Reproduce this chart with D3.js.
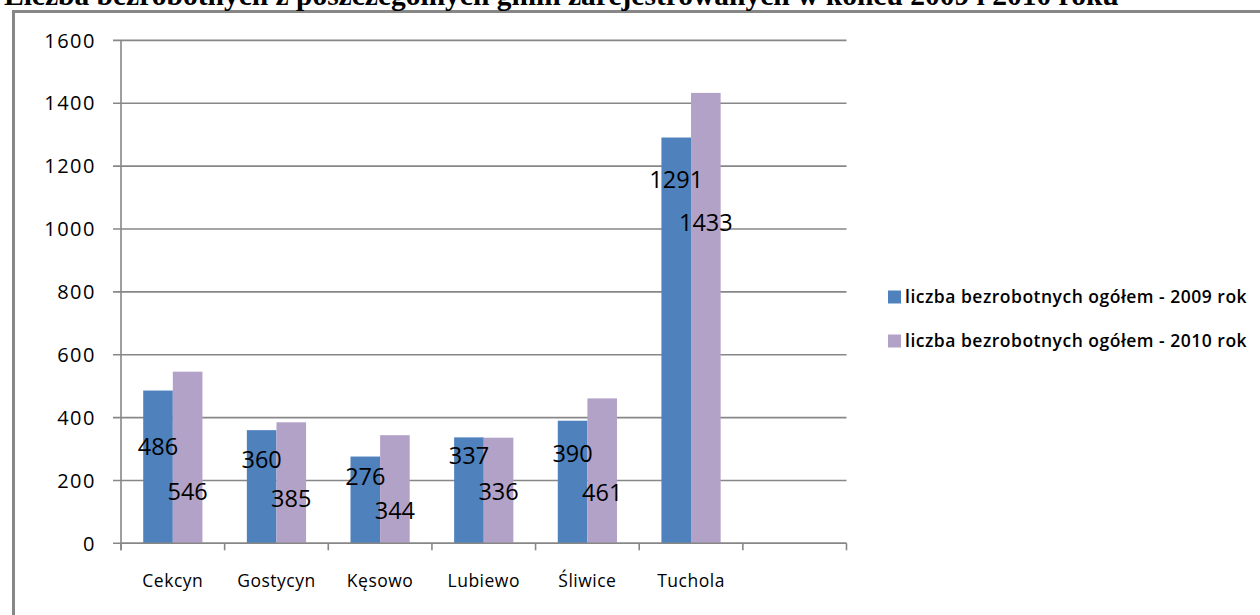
<!DOCTYPE html>
<html>
<head>
<meta charset="utf-8">
<script src="https://cdn.jsdelivr.net/npm/d3@7"></script>
<style>
  body { margin: 0; background: #fff; }
  svg { display: block; }
</style>
</head>
<body>
<div id="container"></div>
<script>
//Chart data
var title = "Liczba bezrobotnych z poszczególnych gmin zarejestrowanych w końcu 2009 i 2010 roku";
var categories = ["Cekcyn", "Gostycyn", "Kęsowo", "Lubiewo", "Śliwice", "Tuchola", ""];
var seriesNames = ["liczba bezrobotnych ogółem - 2009 rok", "liczba bezrobotnych ogółem - 2010 rok"];
var values2009 = [486, 360, 276, 337, 390, 1291, null];
var values2010 = [546, 385, 344, 336, 461, 1433, null];
var yTicks = [0, 200, 400, 600, 800, 1000, 1200, 1400, 1600];

var colors = ["#4F81BD", "#B3A2C7"];
var gridColor = "#878787";

//Data labels were dragged by hand in the original, so they sit at
//different depths below the bar top (pixels)
var labelDrop = [
    [56, 29, 20, 18, 33, 42],
    [120, 76, 75, 54, 94, 130]
];

var width = 1260,
    height = 615;

//Plot area
var plot = { left: 121, right: 846.5, top: 40.4, bottom: 543.3 };

var svg = d3.select("#container").append("svg")
    .attr("width", width)
    .attr("height", height);

//Outer chart border (runs off the right and bottom of the picture)
svg.append("rect")
    .attr("x", 13.5)
    .attr("y", 11.5)
    .attr("width", 1300)
    .attr("height", 700)
    .attr("fill", "none")
    .attr("stroke", gridColor)
    .attr("stroke-width", 3);

//Title, mostly cut off at the top (as in the source page)
svg.append("text")
    .attr("x", 4)
    .attr("y", 5)
    .attr("font-family", "'Liberation Serif', 'Times New Roman', serif")
    .attr("font-weight", "bold")
    .attr("font-size", 29.5)
    .attr("fill", "#000")
    .text(title);

var x0 = d3.scaleBand()
    .domain(categories)
    .range([plot.left, plot.right])
    .paddingInner(0)
    .paddingOuter(0);

var x1 = d3.scaleBand()
    .domain([0, 1])
    .range([0, x0.bandwidth()])
    .paddingInner(0)
    .paddingOuter(0.75);

var y = d3.scaleLinear()
    .domain([0, 1600])
    .range([plot.bottom, plot.top]);

//Horizontal gridlines + y ticks
svg.append("g")
    .selectAll("line")
    .data(yTicks)
    .enter().append("line")
    .attr("x1", plot.left - 8)
    .attr("x2", plot.right)
    .attr("y1", function (d) { return y(d); })
    .attr("y2", function (d) { return y(d); })
    .attr("stroke", gridColor)
    .attr("stroke-width", 1.6);

//Y axis labels
svg.append("g")
    .selectAll("text")
    .data(yTicks)
    .enter().append("text")
    .attr("x", 96)
    .attr("y", function (d) { return y(d); })
    .attr("dy", "0.36em")
    .attr("text-anchor", "end")
    .attr("font-family", "'Open Sans', sans-serif")
    .attr("font-size", 20)
    .attr("letter-spacing", 1.5)
    .attr("fill", "#000")
    .text(function (d) { return d; });

//Y axis line
svg.append("line")
    .attr("x1", plot.left).attr("x2", plot.left)
    .attr("y1", plot.top).attr("y2", plot.bottom + 7)
    .attr("stroke", gridColor)
    .attr("stroke-width", 1.6);

//Bars
var series = [values2009, values2010];
series.forEach(function (vals, s) {
    svg.append("g")
        .selectAll("rect")
        .data(categories.map(function (c, i) { return { cat: c, v: vals[i] }; })
            .filter(function (d) { return d.v != null; }))
        .enter().append("rect")
        .attr("x", function (d) { return x0(d.cat) + x1(s); })
        .attr("y", function (d) { return y(d.v); })
        .attr("width", x1.bandwidth())
        .attr("height", function (d) { return y(0) - y(d.v); })
        .attr("fill", colors[s]);
});

//X axis line and ticks at category boundaries
svg.append("line")
    .attr("x1", plot.left).attr("x2", plot.right)
    .attr("y1", plot.bottom).attr("y2", plot.bottom)
    .attr("stroke", gridColor)
    .attr("stroke-width", 1.6);

var bounds = categories.map(function (c) { return x0(c); }).concat([plot.right]);
svg.append("g")
    .selectAll("line")
    .data(bounds)
    .enter().append("line")
    .attr("x1", function (d) { return d; })
    .attr("x2", function (d) { return d; })
    .attr("y1", plot.bottom)
    .attr("y2", plot.bottom + 7)
    .attr("stroke", gridColor)
    .attr("stroke-width", 1.6);

//Category labels
svg.append("g")
    .selectAll("text")
    .data(categories)
    .enter().append("text")
    .attr("x", function (d) { return x0(d) + x0.bandwidth() / 2; })
    .attr("y", 587)
    .attr("text-anchor", "middle")
    .attr("font-family", "'Open Sans', sans-serif")
    .attr("font-size", 17.5)
    .attr("letter-spacing", 0.5)
    .attr("fill", "#000")
    .text(function (d) { return d; });

//Data labels
series.forEach(function (vals, s) {
    svg.append("g")
        .selectAll("text")
        .data(categories.map(function (c, i) { return { cat: c, v: vals[i], i: i }; })
            .filter(function (d) { return d.v != null; }))
        .enter().append("text")
        .attr("x", function (d) { return x0(d.cat) + x1(s) + x1.bandwidth() / 2; })
        .attr("y", function (d) { return y(d.v) + labelDrop[s][d.i]; })
        .attr("dy", "0.36em")
        .attr("text-anchor", "middle")
        .attr("font-family", "'Open Sans', sans-serif")
        .attr("font-size", 23.5)
        .attr("fill", "#000")
        .text(function (d) { return d.v; });
});

//Legend
var legend = svg.append("g")
    .selectAll("g")
    .data(seriesNames)
    .enter().append("g")
    .attr("transform", function (d, i) { return "translate(888," + (297 + i * 44) + ")"; });

legend.append("rect")
    .attr("x", 0)
    .attr("y", -6.5)
    .attr("width", 13)
    .attr("height", 13)
    .attr("fill", function (d, i) { return colors[i]; });

legend.append("text")
    .attr("x", 17)
    .attr("y", 0)
    .attr("dy", "0.36em")
    .attr("font-family", "'Open Sans', sans-serif")
    .attr("font-weight", 600)
    .attr("font-size", 17.5)
    .attr("letter-spacing", 0.5)
    .attr("fill", "#000")
    .text(function (d) { return d; });
</script>
</body>
</html>
